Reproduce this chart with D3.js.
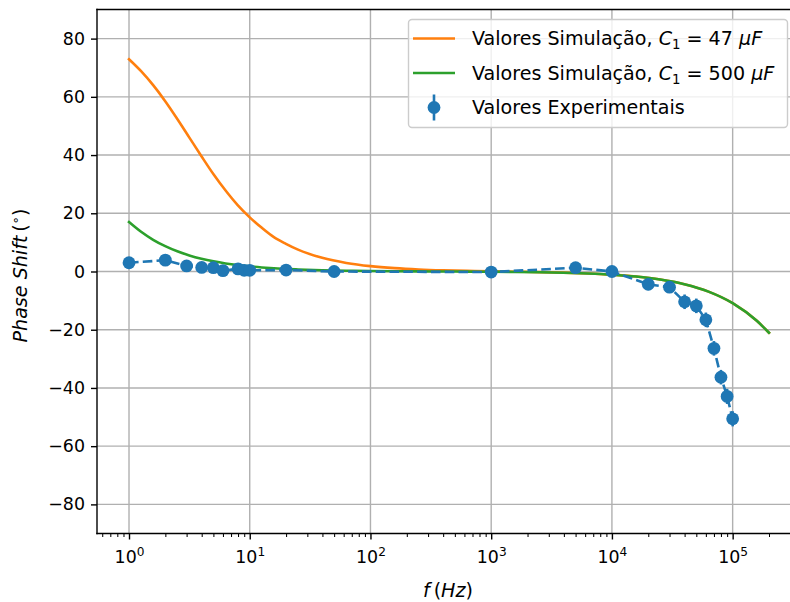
<!DOCTYPE html>
<html>
<head>
<meta charset="utf-8">
<script src="https://cdn.jsdelivr.net/npm/d3@7"></script>
<style>
  html, body { margin: 0; padding: 0; background: #ffffff; }
  svg { display: block; font-family: "DejaVu Sans", sans-serif; }
</style>
</head>
<body>
<svg id="chart" width="790" height="602"></svg>
<script>
// ---- data -------------------------------------------------------------
// measured phase shift (degrees) against frequency (Hz)
const expFreq  = [1, 2, 3, 4, 5, 6, 8, 9, 10, 20, 50, 1000, 5000, 10000,
                  20000, 30000, 40000, 50000, 60000, 70000, 80000, 90000, 100000];
const expPhase = [3.0, 3.9, 1.9, 1.4, 1.3, 0.3, 0.9, 0.4, 0.4, 0.5, 0.0, -0.2, 1.3, 0.0,
                  -4.4, -5.4, -10.4, -11.8, -16.6, -26.4, -36.3, -42.9, -50.6];
const expErr   = [1.0, 1.0, 1.0, 1.0, 1.0, 1.0, 1.0, 1.0, 1.0, 1.0, 1.0, 1.5, 1.5, 1.5,
                  2.0, 2.0, 2.5, 2.5, 2.5, 2.5, 2.5, 2.6, 2.6];

// simulated response from 1 Hz up to 200 kHz (0.1 decade steps at the low end)
const simFreq = [1, 1.259, 1.585, 1.995, 2.512, 3.162, 3.981, 5.012, 6.31, 7.943,
                 10, 12.59, 15.85, 19.95, 25.12, 39.81, 63.1,
                 100, 158.5, 251.2, 398.1, 631, 1000, 1585, 2512, 3981, 6310,
                 10000, 15849, 25119, 39811, 63096, 100000, 158489, 200000];
const sim47  = [72.9, 68.8, 64.0, 58.5, 52.4, 46.0, 39.6, 33.4, 27.8, 22.8,
                18.6, 15.0, 11.8, 9.5, 7.5, 4.7, 2.95,
                1.85, 1.16, 0.71, 0.42, 0.23, 0.08, -0.06, -0.20, -0.39, -0.67,
                -1.08, -1.74, -2.76, -4.37, -6.91, -10.88, -16.95, -21.04];
const sim500 = [17.0, 13.64, 10.9, 8.71, 6.93, 5.52, 4.39, 3.49, 2.77, 2.20,
                1.75, 1.39, 1.10, 0.88, 0.70, 0.44, 0.27,
                0.16, 0.09, 0.04, 0.0, -0.04, -0.09, -0.16, -0.27, -0.43, -0.69,
                -1.10, -1.74, -2.77, -4.38, -6.92, -10.89, -16.95, -21.04];

const yTicks = [-80, -60, -40, -20, 0, 20, 40, 60, 80];
const xTicks = [1, 10, 100, 1000, 10000, 100000];

const legendLabels = [
  { kind: "line",  color: "#ff7f0e", cap: "47" },
  { kind: "line",  color: "#2ca02c", cap: "500" },
  { kind: "error", color: "#1f77b4", text: "Valores Experimentais" }
];

// ---- layout -----------------------------------------------------------
const svg = d3.select("#chart");
const W = 790, H = 602;
const plot = { left: 97, right: 801, top: 9.5, bottom: 533.5 };
const FS = 17.4;          // tick labels
const FL = 19.1;          // legend and axis titles
const LW = 2.6;           // line width
const C0 = "#1f77b4", C1 = "#ff7f0e", C2 = "#2ca02c";

svg.append("rect").attr("width", W).attr("height", H).attr("fill", "#ffffff");

const x = d3.scaleLog()
  .domain([Math.pow(10, -0.2651), Math.pow(10, 5.5661)])
  .range([plot.left, plot.right]);
const y = d3.scaleLinear().domain([-90, 90]).range([plot.bottom, plot.top]);

svg.append("clipPath").attr("id", "plotclip")
  .append("rect")
  .attr("x", plot.left).attr("y", plot.top)
  .attr("width", plot.right - plot.left).attr("height", plot.bottom - plot.top);

// ---- grid -------------------------------------------------------------
const grid = svg.append("g").attr("stroke", "#b0b0b0").attr("stroke-width", 1.4);
grid.selectAll("line.gx").data(xTicks).join("line")
  .attr("x1", d => x(d)).attr("x2", d => x(d))
  .attr("y1", plot.top).attr("y2", plot.bottom);
grid.selectAll("line.gy").data(yTicks).join("line")
  .attr("x1", plot.left).attr("x2", plot.right)
  .attr("y1", d => y(d)).attr("y2", d => y(d));

// ---- simulated curves -------------------------------------------------
const curves = svg.append("g").attr("clip-path", "url(#plotclip)");
const simLine = d3.line()
  .x(d => x(d[0])).y(d => y(d[1]))
  .curve(d3.curveMonotoneX);

curves.append("path")
  .attr("d", simLine(d3.zip(simFreq, sim47)))
  .attr("fill", "none").attr("stroke", C1).attr("stroke-width", LW)
  .attr("stroke-linejoin", "round").attr("stroke-linecap", "square");
curves.append("path")
  .attr("d", simLine(d3.zip(simFreq, sim500)))
  .attr("fill", "none").attr("stroke", C2).attr("stroke-width", LW)
  .attr("stroke-linejoin", "round").attr("stroke-linecap", "square");

// ---- experimental points with error bars ------------------------------
const expData = expFreq.map((f, i) => ({ f, p: expPhase[i], e: expErr[i] }));
const expG = svg.append("g").attr("clip-path", "url(#plotclip)");

expG.selectAll("line.err").data(expData).join("line")
  .attr("x1", d => x(d.f)).attr("x2", d => x(d.f))
  .attr("y1", d => y(d.p - d.e)).attr("y2", d => y(d.p + d.e))
  .attr("stroke", C0).attr("stroke-width", LW);

expG.append("path")
  .attr("d", d3.line().x(d => x(d.f)).y(d => y(d.p))(expData))
  .attr("fill", "none").attr("stroke", C0).attr("stroke-width", LW)
  .attr("stroke-dasharray", "9.6,4.2");

expG.selectAll("circle").data(expData).join("circle")
  .attr("cx", d => x(d.f)).attr("cy", d => y(d.p)).attr("r", 6.4)
  .attr("fill", C0);

// ---- axes -------------------------------------------------------------
const minorTicks = [];
for (let dec = -1; dec <= 5; dec++) {
  for (let m = 2; m <= 9; m++) {
    const v = m * Math.pow(10, dec);
    if (v > x.domain()[0] && v < x.domain()[1]) minorTicks.push(v);
  }
}

const axY = svg.append("g")
  .attr("transform", `translate(${plot.left},0)`)
  .call(d3.axisLeft(y).tickValues(yTicks).tickSize(6).tickPadding(6)
        .tickFormat(d3.format("d")));
axY.select(".domain").remove();
axY.selectAll(".tick line").attr("stroke", "#000").attr("stroke-width", 1.4);
axY.selectAll(".tick text").attr("font-size", FS).attr("fill", "#000")
  .attr("font-family", "DejaVu Sans");

const axXminor = svg.append("g")
  .attr("transform", `translate(0,${plot.bottom})`)
  .call(d3.axisBottom(x).tickValues(minorTicks).tickSize(3.5).tickFormat(""));
axXminor.select(".domain").remove();
axXminor.selectAll(".tick line").attr("stroke", "#000").attr("stroke-width", 1.04);

const axX = svg.append("g")
  .attr("transform", `translate(0,${plot.bottom})`)
  .call(d3.axisBottom(x).tickValues(xTicks).tickSize(6).tickPadding(6)
        .tickFormat(() => ""));
axX.select(".domain").remove();
axX.selectAll(".tick line").attr("stroke", "#000").attr("stroke-width", 1.4);
axX.selectAll(".tick").each(function (d) {
  const t = d3.select(this).select("text")
    .attr("font-size", FS).attr("fill", "#000")
    .attr("font-family", "DejaVu Sans")
    .attr("y", null).attr("dy", null)
    .attr("text-anchor", "middle");
  t.attr("y", 29.5);
  t.append("tspan").text("10");
  t.append("tspan").attr("font-size", FS * 0.7).attr("dy", -7)
    .text(String(Math.round(Math.log10(d))));
});

// spines (left, bottom, top; the right edge falls outside the canvas)
const spines = svg.append("g").attr("stroke", "#000").attr("stroke-width", 1.4)
  .attr("stroke-linecap", "square");
spines.append("line").attr("x1", plot.left).attr("x2", plot.left)
  .attr("y1", plot.top).attr("y2", plot.bottom);
spines.append("line").attr("x1", plot.left).attr("x2", plot.right)
  .attr("y1", plot.bottom).attr("y2", plot.bottom);
spines.append("line").attr("x1", plot.left).attr("x2", plot.right)
  .attr("y1", plot.top).attr("y2", plot.top);
spines.append("line").attr("x1", plot.right).attr("x2", plot.right)
  .attr("y1", plot.top).attr("y2", plot.bottom);

// ---- axis titles ------------------------------------------------------
const xt = svg.append("text")
  .attr("x", (plot.left + plot.right) / 2 - 1).attr("y", 597)
  .attr("text-anchor", "middle").attr("font-size", FL).attr("fill", "#000");
xt.append("tspan").attr("font-style", "italic").text("f");
xt.append("tspan").text("\u2009(");
xt.append("tspan").attr("font-style", "italic").text("Hz");
xt.append("tspan").text(")");

const yt = svg.append("text")
  .attr("transform", `translate(27,${(plot.top + plot.bottom) / 2 + 4}) rotate(-90)`)
  .attr("text-anchor", "middle").attr("font-size", FL).attr("fill", "#000");
yt.append("tspan").attr("font-style", "italic").text("Phase Shift");
yt.append("tspan").text("\u2009(");
yt.append("tspan").attr("font-size", FL * 0.7).attr("dy", -7.5).text("\u2218");
yt.append("tspan").attr("dy", 7.5).text(")");

// ---- legend -----------------------------------------------------------
const lg = svg.append("g");
lg.append("rect")
  .attr("x", 408.5).attr("y", 19.5).attr("width", 379).attr("height", 108)
  .attr("rx", 3.5)
  .attr("fill", "#ffffff").attr("fill-opacity", 0.8)
  .attr("stroke", "#cccccc").attr("stroke-width", 1.4);

const rowY = [38.5, 73, 107.5];
legendLabels.forEach((item, i) => {
  const cy = rowY[i];
  if (item.kind === "line") {
    lg.append("line").attr("x1", 413).attr("x2", 455).attr("y1", cy).attr("y2", cy)
      .attr("stroke", item.color).attr("stroke-width", LW);
  } else {
    lg.append("line").attr("x1", 434).attr("x2", 434).attr("y1", cy - 13).attr("y2", cy + 13)
      .attr("stroke", item.color).attr("stroke-width", LW);
    lg.append("circle").attr("cx", 434).attr("cy", cy).attr("r", 6.4).attr("fill", item.color);
  }
  const t = lg.append("text").attr("x", 472).attr("y", cy + 6.8)
    .attr("font-size", FL).attr("fill", "#000");
  if (item.kind === "line") {
    t.append("tspan").text("Valores Simulação, ");
    t.append("tspan").attr("font-style", "italic").text("C");
    t.append("tspan").attr("font-size", FL * 0.7).attr("dy", 3.8).text("1");
    t.append("tspan").attr("dy", -3.8).text(" = " + item.cap + " ");
    t.append("tspan").attr("font-style", "italic").text("μF");
  } else {
    t.text(item.text);
  }
});
</script>
</body>
</html>
